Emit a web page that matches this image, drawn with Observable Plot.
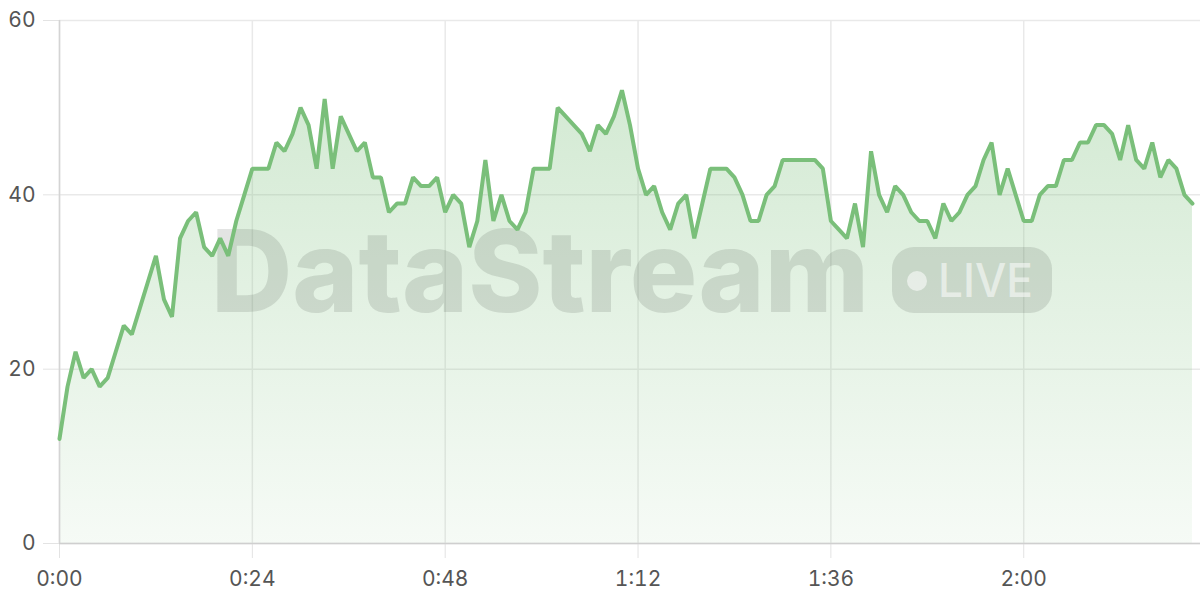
<!DOCTYPE html>
<html>
<head>
<meta charset="utf-8">
<script src="https://cdn.jsdelivr.net/npm/d3@7"></script>
<script src="https://cdn.jsdelivr.net/npm/@observablehq/plot@0.6"></script>
<style>
  html, body { margin: 0; padding: 0; background: #fff; }
  #chart { width: 1200px; height: 600px; }
</style>
</head>
<body>
<div id="chart"></div>
<script>
// Values sampled once per second (seconds 0..141)
const values = [
  12,18,22,19,20,18,19,22,25,24,27,30,33,28,26,35,37,38,34,33,
  35,33,37,40,43,43,43,46,45,47,50,48,43,51,43,49,47,45,46,42,
  42,38,39,39,42,41,41,42,38,40,39,34,37,44,37,40,37,36,38,43,
  43,43,50,49,48,47,45,48,47,49,52,48,43,40,41,38,36,39,40,35,
  39,43,43,43,42,40,37,37,40,41,44,44,44,44,44,43,37,36,35,39,
  34,45,40,38,41,40,38,37,37,35,39,37,38,40,41,44,46,40,43,40,
  37,37,40,41,41,44,44,46,46,48,48,47,44,48,44,43,46,42,44,43,
  40,39
];
const xTicks = [0, 24, 48, 72, 96, 120];
const yTicks = [0, 20, 40, 60];
const xDomain = [0, 142];
const yDomain = [0, 60];
const watermarkText = "DataStream";
const badgeText = "LIVE";

const data = values.map((v, i) => ({t: i, v}));
const fmt = d => `${Math.floor(d / 60)}:${String(d % 60).padStart(2, "0")}`;

const lineColor = "#7abf7a";

function watermark(index, scales, values, dims) {
  const g = d3.create("svg:g").attr("pointer-events", "none").attr("text-anchor", "start");
  const ox = dims.marginLeft, oy = dims.marginTop;
  g.append("text")
    .attr("x", ox + 152).attr("y", oy + 292)
    .attr("text-anchor", "start")
    .attr("font-family", "Inter, 'Noto Sans', sans-serif")
    .attr("font-weight", 800)
    .attr("font-size", 114)
    .attr("textLength", 658)
    .attr("lengthAdjust", "spacingAndGlyphs")
    .attr("fill", "rgb(40,50,40)")
    .attr("fill-opacity", 0.13)
    .text(watermarkText);
  g.append("rect")
    .attr("x", ox + 833).attr("y", oy + 227)
    .attr("width", 160).attr("height", 66).attr("rx", 22)
    .attr("fill", "rgb(40,50,40)").attr("fill-opacity", 0.13);
  g.append("circle")
    .attr("cx", ox + 858).attr("cy", oy + 261).attr("r", 10)
    .attr("fill", "#fff").attr("fill-opacity", 0.55);
  g.append("text")
    .attr("x", ox + 879).attr("y", oy + 277)
    .attr("text-anchor", "start")
    .attr("font-family", "Inter, 'Noto Sans', sans-serif")
    .attr("font-weight", 500)
    .attr("font-size", 47)
    .attr("textLength", 95)
    .attr("lengthAdjust", "spacingAndGlyphs")
    .attr("fill", "#fff").attr("fill-opacity", 0.55)
    .text(badgeText);
  return g.node();
}

const chart = Plot.plot({
  width: 1200,
  height: 600,
  marginLeft: 59,
  marginRight: 0,
  marginTop: 20,
  marginBottom: 57,
  style: {fontFamily: "Inter, 'Noto Sans', sans-serif", fontSize: "20px", color: "#555", background: "#fff"},
  x: {domain: xDomain},
  y: {domain: yDomain},
  marks: [
    Plot.gridY({ticks: yTicks, stroke: "#e9e9e9", strokeOpacity: 1, strokeWidth: 1.5}),
    Plot.gridX({ticks: xTicks, stroke: "#e9e9e9", strokeOpacity: 1, strokeWidth: 1.5}),
    Plot.axisY({ticks: yTicks, tickSize: 16, tickPadding: 8, stroke: "#e3e3e3", fill: "#555", label: null, fontSize: 21}),
    Plot.axisX({ticks: xTicks, tickSize: 15, tickPadding: 13, tickFormat: fmt, stroke: "#e3e3e3", fill: "#555", label: null, fontSize: 21}),
    Plot.areaY(data, {x: "t", y: "v", fill: "url(#areaGrad)"}),
    watermark,
    Plot.ruleY([0], {stroke: "#cfcfcf", strokeWidth: 1.5}),
    Plot.ruleX([0], {stroke: "#d4d4d4", strokeWidth: 1.5}),
    Plot.lineY(data, {x: "t", y: "v", stroke: lineColor, strokeWidth: 4, strokeLinejoin: "miter"})
  ]
});

const svgNS = "http://www.w3.org/2000/svg";
const defs = document.createElementNS(svgNS, "defs");
defs.innerHTML = `<linearGradient id="areaGrad" gradientUnits="userSpaceOnUse" x1="0" y1="20" x2="0" y2="543">
  <stop offset="0" stop-color="#7dc07d" stop-opacity="0.38"/>
  <stop offset="1" stop-color="#7dc07d" stop-opacity="0.07"/>
</linearGradient>`;
chart.insertBefore(defs, chart.firstChild);
document.getElementById("chart").appendChild(chart);
</script>
</body>
</html>
